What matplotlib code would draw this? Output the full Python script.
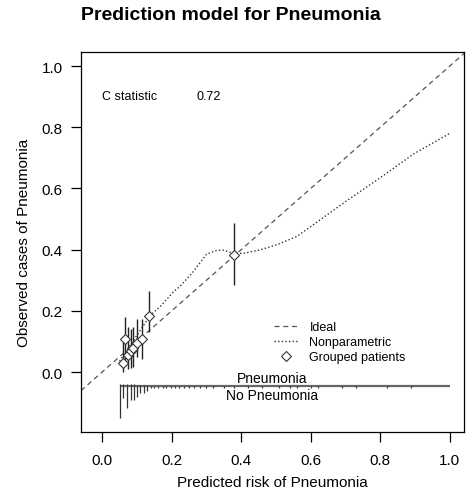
import matplotlib
matplotlib.use('Agg')
import matplotlib.pyplot as plt
import numpy as np

plt.rcParams.update({
    'font.family': ['Liberation Sans', 'DejaVu Sans'],
    'axes.linewidth': 0.9,
    'xtick.direction': 'out',
    'ytick.direction': 'out',
})

# ── Datos ─────────────────────────────────────────────────────────────────────
# curva no paramétrica (loess)
np_x = [0.05, 0.07, 0.10, 0.138, 0.167, 0.205, 0.224, 0.262, 0.30, 0.33, 0.35,
        0.377, 0.406, 0.454, 0.507, 0.56, 0.607, 0.70, 0.80, 0.895, 1.0]
np_y = [0.035, 0.07, 0.12, 0.185, 0.214, 0.262, 0.28, 0.328, 0.385, 0.398, 0.398,
        0.388, 0.388, 0.399, 0.418, 0.443, 0.481, 0.557, 0.635, 0.712, 0.78]

# pacientes agrupados (deciles) con IC
grp_x = [0.060, 0.066, 0.075, 0.082, 0.089, 0.100, 0.115, 0.135, 0.379]
grp_y = [0.030, 0.108, 0.056, 0.070, 0.080, 0.095, 0.108, 0.184, 0.382]
grp_lo = [0.000, 0.026, 0.010, 0.012, 0.016, 0.050, 0.043, 0.130, 0.283]
grp_hi = [0.100, 0.180, 0.148, 0.140, 0.148, 0.174, 0.174, 0.266, 0.487]

# histograma de espigas
spk_base = -0.046
neg_x = [0.050, 0.061, 0.071, 0.082, 0.091, 0.101, 0.110, 0.120, 0.130, 0.140,
         0.150, 0.162, 0.174, 0.185, 0.197, 0.210, 0.221, 0.235, 0.250, 0.265,
         0.280, 0.300, 0.320, 0.350, 0.380, 0.420, 0.460, 0.510, 0.540, 0.560,
         0.600, 0.620, 0.690, 0.730, 0.820, 0.890]
neg_len = [0.103, 0.040, 0.073, 0.044, 0.044, 0.035, 0.024, 0.022, 0.015, 0.006,
           0.006, 0.006, 0.006, 0.006, 0.006, 0.006, 0.006, 0.006, 0.006, 0.006,
           0.006, 0.006, 0.006, 0.006, 0.006, 0.006, 0.006, 0.006, 0.006, 0.006,
           0.006, 0.006, 0.006, 0.006, 0.006, 0.006]
pos_x = [0.050, 0.061, 0.071, 0.082, 0.091, 0.101, 0.110, 0.120, 0.130]
pos_len = [0.008, 0.006, 0.008, 0.006, 0.006, 0.005, 0.005, 0.004, 0.004]

c_stat = 0.72
ticks = [0.0, 0.2, 0.4, 0.6, 0.8, 1.0]

# ── Figura ─────────────────────────────────────────────────────────────────────
fig = plt.figure(figsize=(4.72, 5.02), dpi=100)
ax = fig.add_axes([0.1716, 0.1375, 0.8114, 0.7569])

ax.axline((0, 0), slope=1, color='#555555', lw=0.9, dashes=(4, 3), label='Ideal')
ax.plot(np_x, np_y, color='#333333', lw=1.0, dashes=(1, 1.6), label='Nonparametric')
ax.vlines(grp_x, grp_lo, grp_hi, color='#222222', lw=1.0)
ax.plot(grp_x, grp_y, ls='none', marker='D', ms=5, mfc='white', mec='#333333',
        mew=0.8, label='Grouped patients')

# histograma de espigas
ax.hlines(spk_base, 0.05, 1.0, color='#666666', lw=1.6)
ax.vlines(neg_x, spk_base, spk_base - np.array(neg_len), color='#333333', lw=0.9)
ax.vlines(pos_x, spk_base, spk_base + np.array(pos_len), color='#333333', lw=0.9)
ax.text(0.488, spk_base + 0.005, 'Pneumonia', ha='center', va='bottom', fontsize=10)
ax.text(0.488, spk_base - 0.006, 'No Pneumonia', ha='center', va='top', fontsize=10)

ax.text(0.0, 0.901, 'C statistic', ha='left', va='center', fontsize=9)
ax.text(0.272, 0.901, f'{c_stat:.2f}', ha='left', va='center', fontsize=9)

ax.legend(loc='upper left', bbox_to_anchor=(0.505, 0.292), frameon=False,
          fontsize=9, handlelength=1.9, handletextpad=0.9, labelspacing=0.25,
          borderpad=0, borderaxespad=0)

ax.set_xlim(-0.061, 1.041)
ax.set_ylim(-0.196, 1.046)
ax.set_xticks(ticks)
ax.set_yticks(ticks)
ax.set_xticklabels([f'{t:.1f}' for t in ticks])
ax.set_yticklabels([f'{t:.1f}' for t in ticks])
ax.tick_params(axis='both', length=7, width=0.9, labelsize=11)
ax.tick_params(axis='x', pad=8)
ax.tick_params(axis='y', pad=6)
ax.set_xlabel('Predicted risk of Pneumonia', fontsize=11, labelpad=6)
ax.set_ylabel('Observed cases of Pneumonia', fontsize=11, labelpad=8)

fig.text(0.49, 1 - 16 / 502, 'Prediction model for Pneumonia', ha='center',
         va='center', fontsize=14, fontweight='bold')

fig.savefig('out.png', dpi=100)
plt.close(fig)
